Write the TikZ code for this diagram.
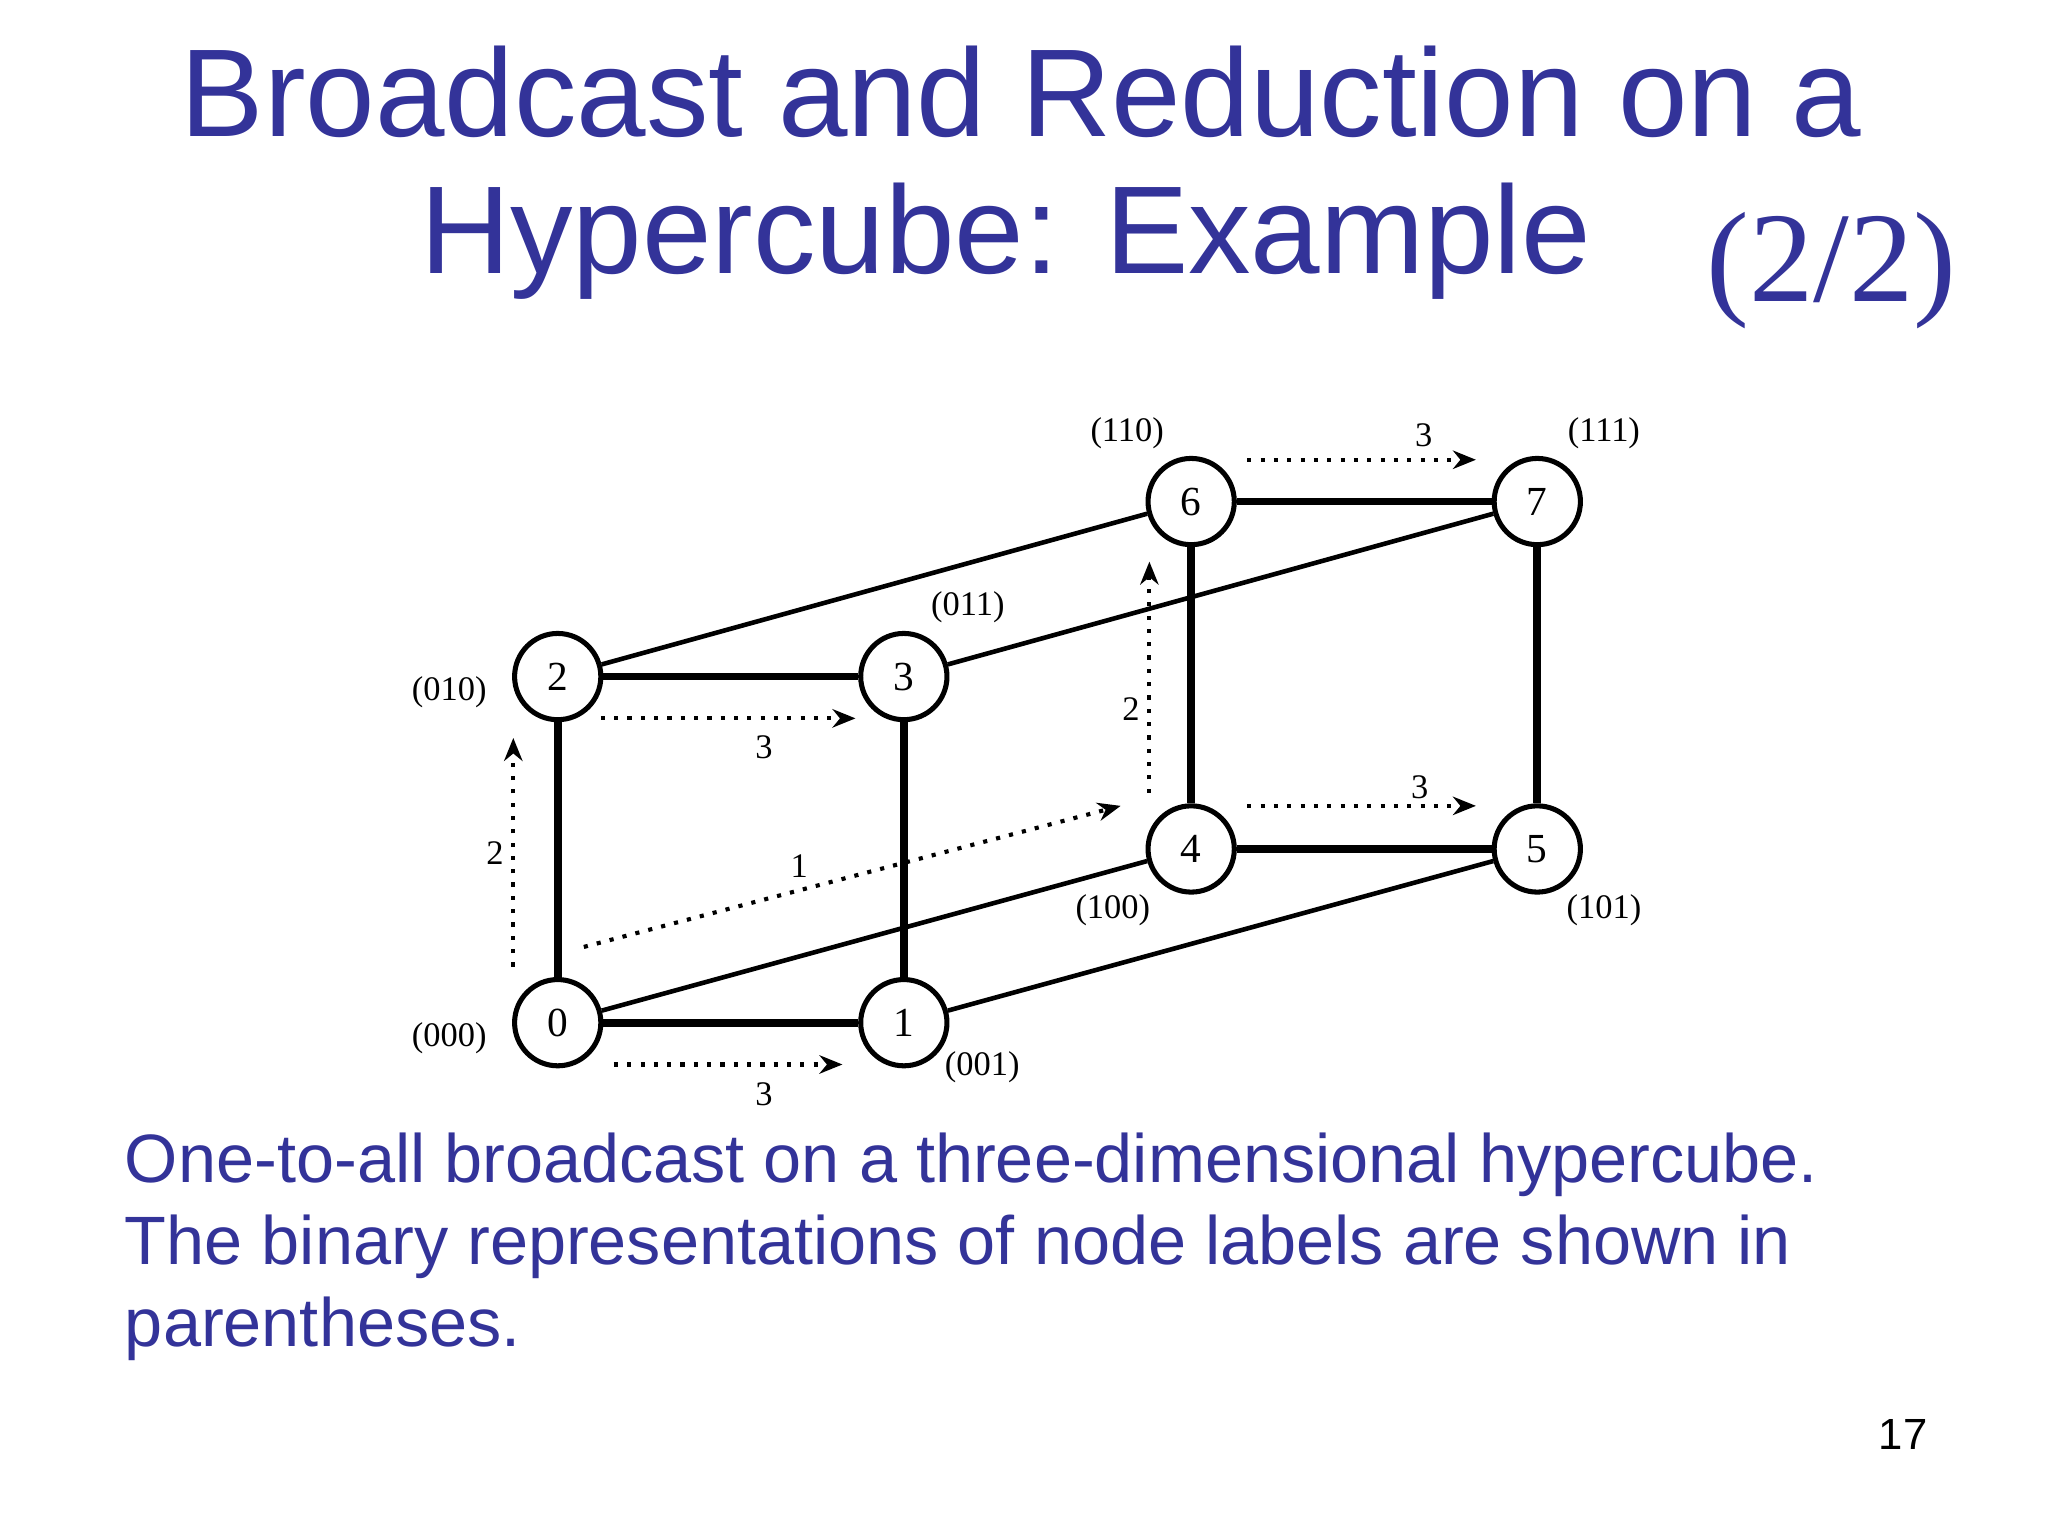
\documentclass[tikz,border=0pt]{standalone}
\usepackage{fontspec}
\setmainfont{Liberation Serif}
\newfontfamily\arial{Liberation Sans}
\usetikzlibrary{arrows.meta}
\definecolor{ttl}{RGB}{51,51,153}
\begin{document}
\begin{tikzpicture}[x=0.01cm,y=-0.01cm,
  vtx/.style={circle,draw,line width=1.1pt,minimum size=0.66cm,inner sep=0pt,font=\fontsize{9}{9}\selectfont},
  thick edge/.style={line width=1.7pt},
  thin edge/.style={line width=1pt},
  msg/.style={dotted,line width=0.9pt,-{Stealth[open,length=5pt,width=4pt]}},
  lbl/.style={font=\fontsize{7.5}{8}\selectfont,inner sep=1pt}]
\useasboundingbox (0,0) rectangle (1568,1176);
\node[text=ttl,font=\arial\fontsize{27.2}{28}\selectfont] (t1) at (782,70) {Broadcast and Reduction on a};
\node[text=ttl,font=\arial\fontsize{27.2}{28}\selectfont] (t2) at (770,185) {Hypercube: Example};
\node[text=ttl,font=\fontsize{28}{29}\selectfont] (t3) at (1402,207) {(2/2)};
\node (n0) [vtx] at (427,783) {0};
\node (n1) [vtx] at (692,783) {1};
\node (n2) [vtx] at (427,518) {2};
\node (n3) [vtx] at (692,518) {3};
\node (n4) [vtx] at (912,650) {4};
\node (n5) [vtx] at (1177,650) {5};
\node (n6) [vtx] at (912,384) {6};
\node (n7) [vtx] at (1177,384) {7};
\draw[thick edge] (n0)--(n1) (n2)--(n3) (n0)--(n2) (n1)--(n3) (n4)--(n5) (n6)--(n7) (n4)--(n6) (n5)--(n7);
\draw[thin edge] (n0)--(n4) (n1)--(n5) (n2)--(n6) (n3)--(n7);
\coordinate (a0) at (470,815); \coordinate (b0) at (645,815);
\coordinate (a1) at (460,550); \coordinate (b1) at (655,550);
\coordinate (a2) at (955,617); \coordinate (b2) at (1130,617);
\coordinate (a3) at (955,352); \coordinate (b3) at (1130,352);
\coordinate (a4) at (393,740); \coordinate (b4) at (393,565);
\coordinate (a5) at (880,607); \coordinate (b5) at (880,430);
\coordinate (a6) at (447,725); \coordinate (b6) at (858,617);
\draw[msg] (a0)--(b0); \draw[msg] (a1)--(b1); \draw[msg] (a2)--(b2); \draw[msg] (a3)--(b3);
\draw[msg] (a4)--(b4); \draw[msg] (a5)--(b5); \draw[msg] (a6)--(b6);
\node[lbl] (m0) at (585,838) {3};
\node[lbl] (m1) at (585,572) {3};
\node[lbl] (m2) at (1087,603) {3};
\node[lbl] (m3) at (1090,333) {3};
\node[lbl] (m4) at (379,653) {2};
\node[lbl] (m5) at (866,543) {2};
\node[lbl] (m6) at (612,663) {1};
\node[lbl] (l2) at (344,530) {(010)};
\node[lbl] (l0) at (344,795) {(000)};
\node[lbl] (l1) at (752,817) {(001)};
\node[lbl] (l3) at (741,465) {(011)};
\node[lbl] (l6) at (863,332) {(110)};
\node[lbl] (l7) at (1228,332) {(111)};
\node[lbl] (l4) at (852,697) {(100)};
\node[lbl] (l5) at (1228,697) {(101)};
\node[text=ttl,font=\arial\fontsize{14.9}{17.8}\selectfont,anchor=north west,align=left,inner sep=0pt] (cap) at (95,867)
 {One-to-all broadcast on a three-dimensional hypercube.\\The binary representations of node labels are shown in\\parentheses.};
\node[font=\arial\fontsize{9.5}{10}\selectfont] (pg) at (1457,1098) {17};
\end{tikzpicture}
\end{document}
